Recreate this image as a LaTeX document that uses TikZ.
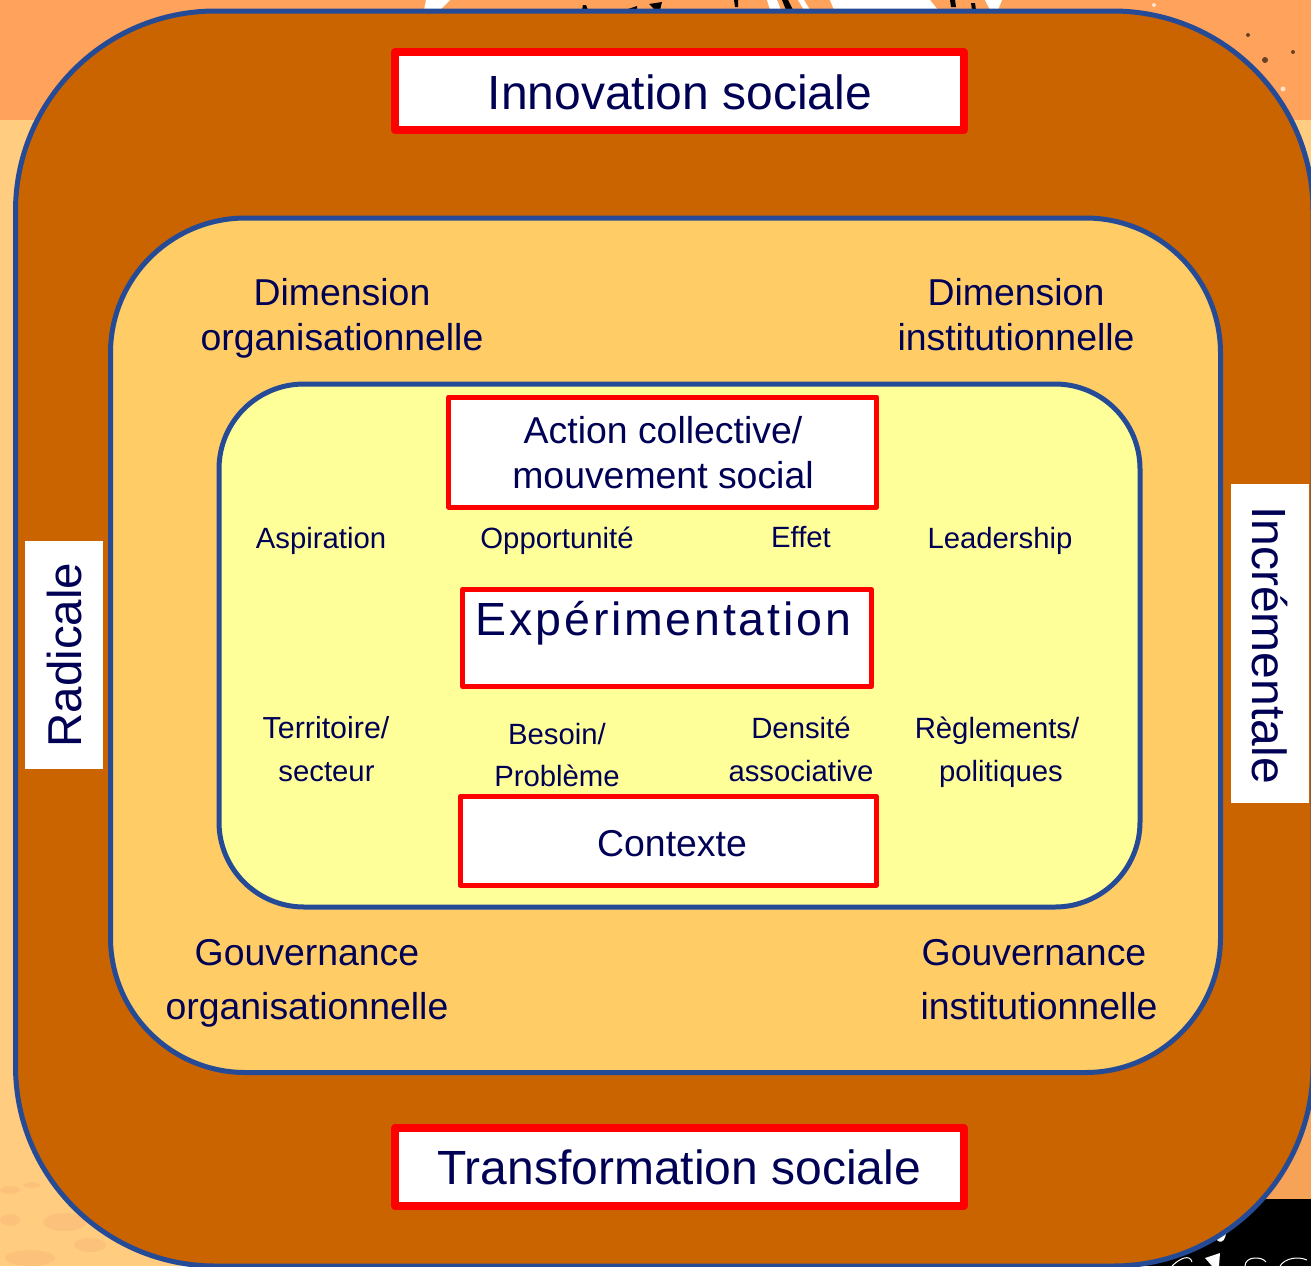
\documentclass[tikz,border=0pt]{standalone}
\usepackage{fontspec}
\setmainfont{Liberation Sans}
\newfontfamily\spacedfont[LetterSpace=6]{Liberation Sans}
\definecolor{bgtop}{HTML}{FFA35C}
\definecolor{bglow}{HTML}{FFCC80}
\definecolor{bgpatch}{HTML}{FCC27C}
\definecolor{bgmottle}{HTML}{F6A257}
\definecolor{ringblue}{HTML}{264B96}
\definecolor{outerfill}{HTML}{CA6400}
\definecolor{midfill}{HTML}{FFCC66}
\definecolor{innerfill}{HTML}{FFFF99}
\definecolor{navy}{HTML}{000055}
\tikzset{
  ring/.style={draw=ringblue,line width=5pt},
  redbox/.style={draw=red,fill=white,line join=round,inner sep=0pt,outer sep=0pt},
  whitebox/.style={fill=white,inner sep=0pt,outer sep=0pt},
  lbl/.style={text=navy,anchor=base,inner sep=0pt,outer sep=0pt,align=center},
  big/.style={lbl,font=\fontsize{48}{48}\selectfont},
  mid/.style={lbl,font=\fontsize{37.4}{37.4}\selectfont},
  small/.style={lbl,font=\fontsize{29.3}{29.3}\selectfont},
}
\begin{document}
\begin{tikzpicture}[x=1pt,y=-1pt]
\useasboundingbox (0,0) rectangle (1311,1266);
\clip (0,0) rectangle (1311,1266);
% background
\fill[bglow] (0,120) rectangle (1311,1266);
\fill[bgtop] (0,0) rectangle (1311,120);
\fill[bgmottle] (1265,1110) rectangle (1311,1199);
\fill[black] (1090,1199) rectangle (1311,1266);
% remnants of the background picture
\fill[white] (426,0) -- (450,0) -- (440,10) -- (424,10) -- cycle;
\fill[white] (767,0) -- (777,0) -- (781,10) -- (770,10) -- cycle;
\fill[white] (798,0) -- (804,0) -- (810,10) -- (804,10) -- cycle;
\fill[white] (830,0) -- (930,0) -- (938,10) -- (834,10) -- cycle;
\fill[white] (985,0) -- (1002,0) -- (998,10) -- (990,10) -- cycle;
\fill[black] (583,5) -- (586,5) -- (588,10) -- (582,10) -- cycle;
\fill[black] (625,10) -- (637,6) -- (637,10) -- cycle;
\fill[black] (649,4) -- (662,2) -- (660,10) -- (655,10) -- cycle;
\fill[black] (734,0) -- (738,0) -- (738,7) -- (735,7) -- cycle;
\fill[black] (782,0) -- (788,0) -- (793,10) -- (786,10) -- cycle;
\fill[black] (950,0) -- (955,0) -- (956,7) -- (951,7) -- cycle;
\fill[black] (971,3) -- (975,3) -- (976,10) -- (972,10) -- cycle;
\fill[bgpatch] (10,1190) ellipse (10 and 4);
\fill[bgpatch] (32,1185) ellipse (8 and 3);
\fill[bgpatch] (10,1220) ellipse (10 and 6);
\fill[bgpatch] (65,1222) ellipse (22 and 9);
\fill[bgpatch] (30,1258) ellipse (25 and 8);
\fill[bgpatch] (90,1245) ellipse (16 and 7);
\fill[black!60!bgtop] (1248,35) circle (2);
\fill[black!60!bgtop] (1265,60) circle (3);
\fill[black!60!bgtop] (1293,52) circle (2);
\fill[white!70!bgtop] (1283,89) circle (2.5);
\fill[white!70!bgtop] (1154,5) circle (2);
\fill[white] (1213,1232) .. controls (1216,1246) and (1228,1246) .. (1226,1225) -- cycle;
\fill[white] (1205,1258) -- (1220,1253) -- (1219,1266) -- (1212,1266) -- cycle;
\draw[white,line width=1pt] (1172,1266) .. controls (1180,1258) and (1190,1254) .. (1192,1262);
\draw[white,line width=1pt] (1245,1266) .. controls (1245,1256) and (1262,1256) .. (1266,1262);
\draw[white,line width=1pt] (1280,1266) .. controls (1285,1258) and (1298,1256) .. (1307,1260);
% rings
\draw[ring,fill=outerfill,rounded corners=200pt] (15.5,11) rectangle (1313,1266);
\draw[ring,fill=midfill,rounded corners=135pt] (110.5,218) rectangle (1220.5,1072.5);
\draw[ring,fill=innerfill,rounded corners=85pt] (219,384) rectangle (1140,907);
% framed boxes
\node[redbox,line width=8pt,minimum width=569pt,minimum height=78pt] (innovbox) at (679.5,91) {};
\node[redbox,line width=8pt,minimum width=569pt,minimum height=78pt] (transbox) at (679.5,1167) {};
\node[redbox,line width=5pt,minimum width=428pt,minimum height=110pt] (actionbox) at (662.75,452) {};
\node[redbox,line width=5pt,minimum width=409pt,minimum height=97pt] (expbox) at (667,638) {};
\node[redbox,line width=5pt,minimum width=416pt,minimum height=89pt] (ctxbox) at (668.25,840.75) {};
\node[whitebox,minimum width=78pt,minimum height=228pt] (radbox) at (64,655) {};
\node[whitebox,minimum width=78pt,minimum height=319pt] (incbox) at (1270,643.5) {};
% texts
\node[big] (innov) at (680,109) {Innovation sociale};
\node[big] (trans) at (679,1184) {Transformation sociale};
\node[mid] (dimo1) at (342,305) {Dimension};
\node[mid] (dimo2) at (342,350) {organisationnelle};
\node[mid] (dimi1) at (1016,305) {Dimension};
\node[mid] (dimi2) at (1016,350) {institutionnelle};
\node[mid] (gouo1) at (307,965) {Gouvernance};
\node[mid] (gouo2) at (307,1019) {organisationnelle};
\node[mid] (goui1) at (1034,965) {Gouvernance};
\node[mid] (goui2) at (1039,1019) {institutionnelle};
\node[mid] (act1) at (663,443) {Action collective/};
\node[mid] (act2) at (663,488) {mouvement social};
\node[lbl,font=\spacedfont\fontsize{46.5}{46.5}\selectfont] (exp) at (663.5,635) {Expérimentation};
\node[mid] (ctx) at (672,856) {Contexte};
\node[small] (asp) at (321,548) {Aspiration};
\node[small] (opp) at (557,548) {Opportunité};
\node[small] (eff) at (801,547) {Effet};
\node[small] (lead) at (1000,548) {Leadership};
\node[lbl,font=\fontsize{30.4}{30.4}\selectfont] (ter1) at (326,738) {Territoire/};
\node[small] (ter2) at (326.5,781) {secteur};
\node[small] (bes1) at (557,744) {Besoin/};
\node[small] (bes2) at (557,786) {Problème};
\node[small] (den1) at (801,738) {Densité};
\node[small] (den2) at (801,781) {associative};
\node[small] (reg1) at (997,738) {Règlements/};
\node[small] (reg2) at (1001,781) {politiques};
\node[lbl,font=\fontsize{47.5}{47.5}\selectfont,rotate=90] (rad) at (81,655) {Radicale};
\node[lbl,font=\fontsize{48}{48}\selectfont,rotate=-90] (inc) at (1252,645) {Incrémentale};
\end{tikzpicture}
\end{document}
